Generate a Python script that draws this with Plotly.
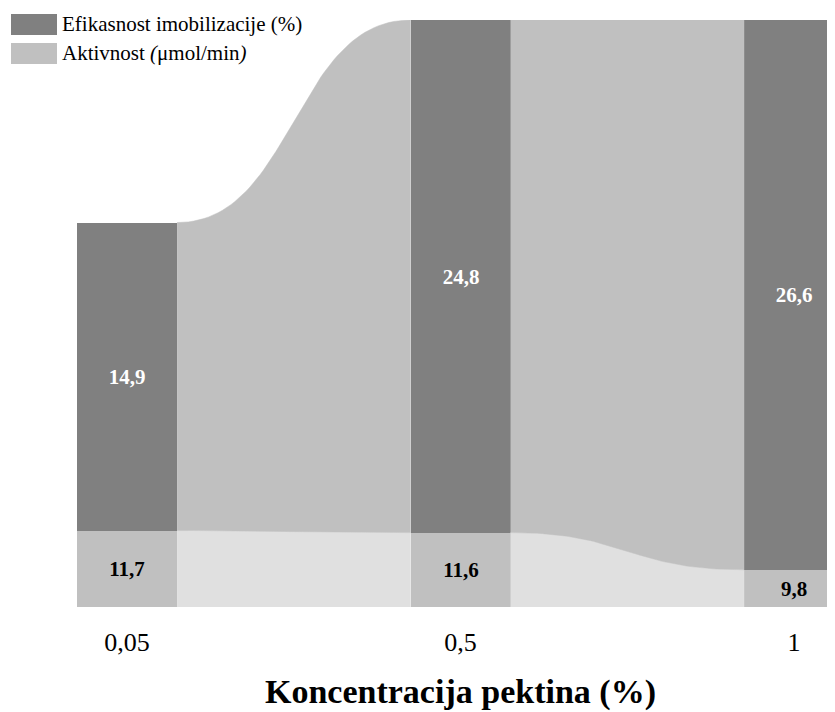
import plotly.graph_objects as go

categories = ["0,05", "0,5", "1"]
efikasnost = [14.9, 24.8, 26.6]
aktivnost = [11.7, 11.6, 9.8]
y_min = 8.0

# page has an 8px body margin, so the figure is 8px smaller than the window
W, H = 827, 704
OFF = 8
M_L, M_R, M_T, M_B = 0, 0, 12, 105
PH = H - M_T - M_B

DARK = "#808080"
LIGHT = "#c0c0c0"
RIB_TOP = "#c0c0c0"
RIB_BOT = "#e0e0e0"
FONT = "Times New Roman, Liberation Serif, serif"
BW = 0.3

xs = list(range(len(categories)))
tops = [a + e for a, e in zip(aktivnost, efikasnost)]
y_max = max(tops)


def fmt(v):
    return f"{v:.1f}".replace(".", ",")


def bez(x0, y0, x1, y1, n=60):
    xm = (x0 + x1) / 2
    pts = []
    for k in range(n + 1):
        s = k / n
        a = (1 - s) ** 3
        b = 3 * (1 - s) ** 2 * s
        c = 3 * (1 - s) * s ** 2
        d = s ** 3
        pts.append((a * x0 + b * xm + c * xm + d * x1, a * y0 + b * y0 + c * y1 + d * y1))
    return pts


fig = go.Figure()

# ribbons
for i in range(len(xs) - 1):
    x0 = xs[i] + BW / 2
    x1 = xs[i + 1] - BW / 2
    for lo0, hi0, lo1, hi1, col in [
        (y_min, aktivnost[i], y_min, aktivnost[i + 1], RIB_BOT),
        (aktivnost[i], tops[i], aktivnost[i + 1], tops[i + 1], RIB_TOP),
    ]:
        upper = bez(x0, hi0, x1, hi1)
        lower = bez(x0, lo0, x1, lo1)[::-1]
        pts = upper + lower
        fig.add_trace(go.Scatter(
            x=[p[0] for p in pts], y=[p[1] for p in pts],
            mode="lines", fill="toself", fillcolor=col,
            line=dict(color=col, width=0.5), hoverinfo="skip", showlegend=False,
        ))

fig.add_trace(go.Bar(
    x=xs, y=[a - y_min for a in aktivnost], base=[y_min] * len(xs), width=BW,
    marker=dict(color=LIGHT, line=dict(width=0)),
    text=[fmt(v) for v in aktivnost], textposition="inside", insidetextanchor="middle",
    textfont=dict(family=FONT, size=21, color="black"), texttemplate="<b>%{text}</b>",
    showlegend=False, hoverinfo="skip",
))
fig.add_trace(go.Bar(
    x=xs, y=efikasnost, base=aktivnost, width=BW,
    marker=dict(color=DARK, line=dict(width=0)),
    text=[fmt(v) for v in efikasnost], textposition="inside", insidetextanchor="middle",
    textfont=dict(family=FONT, size=21, color="white"), texttemplate="<b>%{text}</b>",
    showlegend=False, hoverinfo="skip",
))


def py(p):
    # page pixel y -> paper coordinate
    return (H - M_B - (p - OFF)) / PH


def px(p):
    return (p - OFF) / W


shapes = []
annotations = []
legend_items = [("Efikasnost imobilizacije (%)", DARK, 14, 35),
                ("Aktivnost <i>(</i>μmol/min<i>)</i>", LIGHT, 43, 64)]
for label, col, t, b in legend_items:
    shapes.append(dict(type="rect", xref="paper", yref="paper",
                       x0=px(11), x1=px(57), y0=py(b), y1=py(t),
                       fillcolor=col, line=dict(width=0), layer="above"))
    annotations.append(dict(text=label, xref="paper", yref="paper",
                            x=px(60), y=py((t + b) / 2), xanchor="left", yanchor="middle",
                            showarrow=False, font=dict(family=FONT, size=21, color="black")))

annotations.append(dict(text="<b>Koncentracija pektina (%)</b>", xref="paper", yref="paper",
                        x=px(460), y=py(692), xanchor="center", yanchor="middle", showarrow=False,
                        font=dict(family=FONT, size=34, color="black")))

fig.update_layout(
    width=W, height=H,
    margin=dict(l=M_L, r=M_R, t=M_T, b=M_B),
    paper_bgcolor="white", plot_bgcolor="white",
    barmode="overlay", bargap=0,
    showlegend=False,
    shapes=shapes, annotations=annotations,
    xaxis=dict(range=[-0.357, 2.123], tickvals=xs, ticktext=categories,
               showgrid=False, zeroline=False, showline=False,
               ticks="outside", ticklen=12, tickcolor="rgba(0,0,0,0)",
               tickfont=dict(family=FONT, size=26, color="black")),
    yaxis=dict(range=[y_min, y_max], showgrid=False, zeroline=False, showline=False,
               showticklabels=False),
    uniformtext=dict(mode=False),
)

fig.write_html("out.html")
